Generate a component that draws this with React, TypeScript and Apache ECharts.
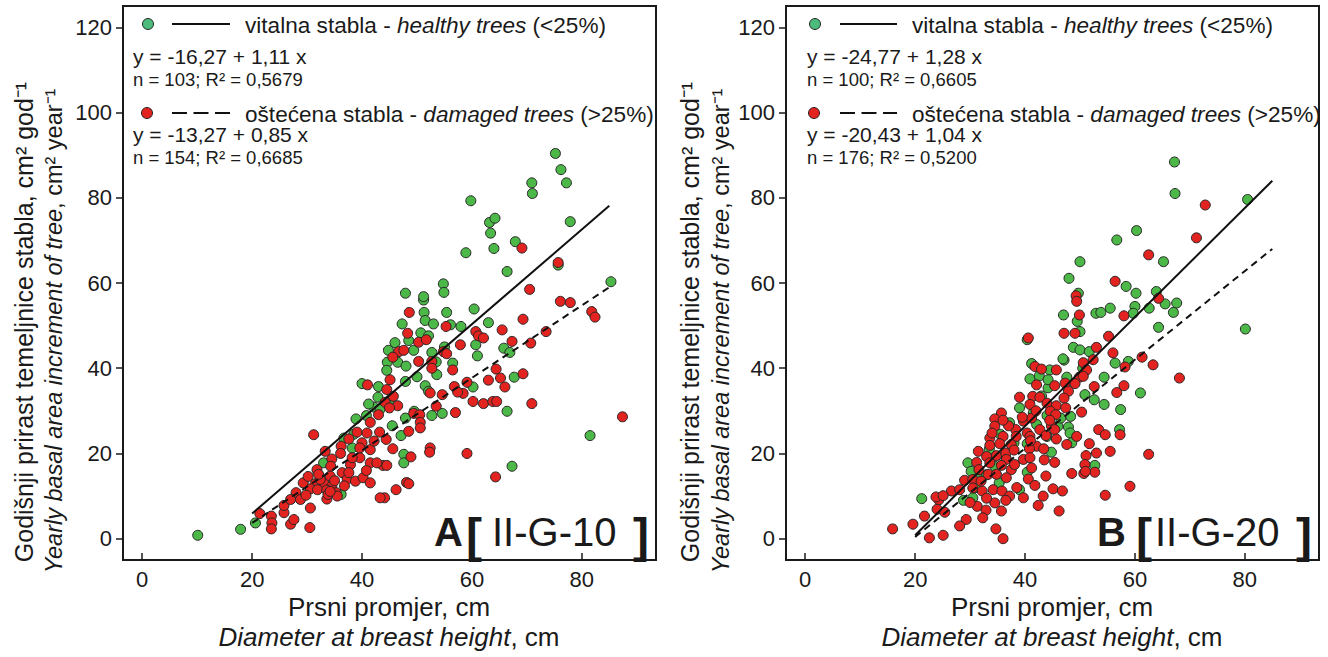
import React, { useEffect, useRef } from "react";
import * as echarts from "echarts";

// ---------- data ----------
const xTicks = [0, 20, 40, 60, 80];
const yTicks = [0, 20, 40, 60, 80, 100, 120];

// Panel A [II-G-10] – healthy trees (green)
const aHealthy: number[][] = [
  [10.1, 0.8], [17.9, 2.2], [20.6, 3.7],
  [51.2, 56.0], [51.3, 53.1], [55.4, 53.1], [47.3, 50.4], [51.5, 51.2], [53.0, 50.4], [58.0, 49.8],
  [50.7, 48.3], [52.1, 47.6], [48.5, 46.5], [44.8, 44.2], [49.4, 44.2], [52.7, 43.7], [44.6, 41.4],
  [46.5, 41.4], [56.5, 41.2], [44.5, 39.5], [53.6, 38.5], [40.0, 36.4], [43.0, 35.7], [47.9, 36.9],
  [51.5, 35.9], [52.1, 34.6], [42.9, 33.2], [42.1, 30.9], [47.9, 28.3], [52.7, 28.9], [54.6, 29.4],
  [38.9, 28.1], [40.8, 28.9], [45.5, 26.5], [47.1, 24.2], [36.7, 23.6], [38.2, 21.3], [47.6, 19.8],
  [47.6, 17.8], [33.0, 17.8], [36.2, 10.4],
  [75.2, 90.4], [76.2, 86.6], [77.2, 83.5], [70.9, 83.5], [71.0, 81.0], [59.8, 79.3], [77.9, 74.4],
  [63.2, 74.2], [64.2, 75.2], [63.4, 71.7], [64.0, 68.1], [58.9, 67.1], [67.9, 69.7], [66.4, 62.7],
  [75.7, 64.2], [85.3, 60.3], [54.8, 59.8], [54.9, 57.8], [47.9, 57.6], [51.2, 56.8], [60.4, 53.9],
  [63.0, 50.7], [60.7, 45.5], [61.0, 42.9], [65.8, 44.7], [66.9, 43.7], [67.7, 37.9], [60.2, 35.6],
  [66.4, 29.9], [67.3, 17.0], [81.5, 24.2], [56.1, 50.2],
  [49.5, 29.9], [43.3, 30.4], [45.1, 32.6], [41.2, 31.6], [50.0, 38.0], [46.0, 46.0], [55.0, 45.0],
  [53.5, 41.5], [48.0, 40.5], [38.5, 24.5],
];

// Panel A – damaged trees (red)
const aDamaged: number[][] = [
  [21.4, 5.9], [23.5, 5.3], [23.6, 3.7], [23.5, 2.3], [25.8, 6.1], [25.8, 7.8], [27.0, 3.4], [27.6, 4.5], [30.5, 2.6],
  [48.6, 53.1], [55.3, 49.8], [48.3, 48.2], [50.3, 46.1], [51.7, 46.7], [57.9, 45.5], [46.7, 43.9],
  [47.6, 44.2], [54.8, 43.9], [55.4, 43.4], [45.6, 42.6], [50.3, 41.6], [52.7, 41.6], [52.7, 40.0],
  [56.5, 39.6], [41.0, 36.1], [45.1, 37.3], [59.1, 36.7], [56.8, 35.7], [58.4, 34.1], [44.5, 35.0],
  [45.7, 33.4], [54.6, 33.8], [44.2, 32.0], [46.5, 31.2], [53.5, 31.1], [45.0, 30.7], [57.0, 29.6],
  [49.4, 29.4], [50.5, 29.1], [43.0, 29.1], [41.5, 27.3], [50.6, 27.3], [50.6, 26.0], [48.5, 25.2],
  [31.2, 24.4], [37.6, 23.4], [39.1, 25.0], [40.9, 24.8], [43.2, 25.0], [44.4, 23.3], [36.2, 21.7],
  [40.0, 22.5], [41.5, 20.9], [45.6, 21.1], [52.4, 21.3], [52.3, 20.3], [59.1, 20.0], [33.3, 20.5],
  [36.1, 20.0], [39.6, 19.0], [48.9, 19.2], [41.5, 17.8], [43.8, 17.2], [44.5, 17.2], [34.5, 18.7],
  [34.3, 17.0], [37.9, 17.4], [36.4, 15.5], [31.8, 16.2], [37.3, 14.0], [38.8, 13.5], [40.2, 14.3],
  [41.5, 13.1], [48.1, 13.2], [48.5, 12.9], [29.3, 13.1], [31.5, 12.9], [33.0, 13.2], [34.5, 12.3],
  [28.0, 10.8], [30.6, 11.7], [31.9, 11.5], [33.6, 11.4], [35.3, 10.8], [27.0, 9.2], [28.8, 9.2],
  [33.6, 9.3], [46.2, 11.5], [44.1, 9.6], [30.6, 7.2],
  [69.1, 68.2], [75.7, 64.8], [70.5, 58.5], [76.1, 55.7], [77.9, 55.4], [81.8, 53.3], [82.4, 52.0],
  [69.3, 51.5], [60.7, 48.6], [61.2, 47.6], [62.1, 47.1], [65.5, 49.0], [67.3, 46.3], [70.7, 45.9],
  [73.5, 48.6], [64.4, 39.8], [69.3, 38.7], [63.0, 37.2], [65.2, 37.7], [66.0, 35.6], [60.2, 32.2],
  [62.1, 31.7], [63.8, 32.2], [64.5, 32.2], [70.9, 31.7], [64.3, 14.5], [87.4, 28.6],
  [52.4, 34.2], [57.4, 34.4],
  [32.4, 13.9], [33.8, 10.4], [34.2, 14.7], [35.5, 10.0], [37.6, 15.5], [39.6, 21.3], [42.2, 22.9],
  [42.7, 17.8], [43.3, 9.6], [34.2, 11.1], [32.1, 15.1],
  [29.8, 10.2], [38.2, 19.0], [36.8, 12.4], [40.8, 16.0], [30.2, 14.6], [35.0, 13.6],
];

// Panel B [II-G-20] – healthy trees (green)
const bHealthy: number[][] = [
  [21.2, 9.4],
  [49.7, 57.6], [47.0, 52.5], [49.5, 51.0], [52.9, 52.9], [40.4, 46.7], [50.0, 48.6], [48.8, 44.9],
  [50.0, 44.3], [51.7, 43.9], [47.1, 41.9], [41.2, 41.1], [44.5, 39.6], [40.9, 37.5], [42.6, 38.2],
  [44.2, 35.4], [47.6, 37.9], [52.6, 32.6], [39.0, 30.7], [44.0, 28.9], [48.3, 28.7], [37.2, 27.2],
  [42.1, 26.8], [46.0, 26.4], [47.9, 26.2], [48.2, 24.8], [40.4, 22.3], [44.8, 20.3], [52.7, 17.2],
  [29.6, 17.8], [30.2, 15.8], [34.5, 17.0], [40.4, 15.6], [31.8, 14.3], [35.3, 13.1], [30.5, 9.6],
  [28.8, 9.0], [39.0, 11.5],
  [67.2, 88.4], [67.3, 81.0], [80.5, 79.6], [60.3, 72.3], [56.7, 70.1], [65.2, 65.0], [58.4, 59.2],
  [60.2, 57.6], [63.9, 58.0], [65.5, 55.1], [67.6, 55.3], [67.0, 53.1], [60.0, 54.5], [55.5, 54.1],
  [53.8, 53.1], [59.7, 52.9], [62.6, 54.1], [64.3, 49.6], [80.1, 49.2], [56.4, 41.2], [58.8, 41.6],
  [54.4, 37.9], [61.0, 34.2], [57.4, 30.3], [54.4, 31.5], [57.2, 25.6],
  [50.0, 65.0], [48.0, 61.1],
  [46.9, 42.2], [44.2, 37.3], [50.9, 33.8], [46.5, 28.3], [48.5, 22.5],
  [33.0, 15.0], [36.5, 19.0], [38.0, 22.5], [43.0, 33.5], [41.5, 29.5], [31.0, 12.0], [35.5, 24.5],
  [50.5, 40.0], [44.0, 24.0], [33.5, 21.0],
];

// Panel B – damaged trees (red)
const bDamaged: number[][] = [
  [15.9, 2.3], [19.6, 3.4], [21.7, 5.3], [22.6, 0.2], [24.3, 9.1], [24.0, 6.9], [23.8, 9.8],
  [49.3, 57.0], [49.4, 55.7], [49.9, 52.5], [40.6, 47.1], [47.1, 48.2], [49.1, 48.2], [53.0, 44.9],
  [41.8, 40.4], [43.0, 39.8], [45.7, 39.6], [50.6, 41.3], [51.2, 39.6], [49.9, 37.9], [42.1, 36.1],
  [45.4, 35.9], [47.3, 36.5], [49.1, 36.4], [52.6, 35.7], [39.0, 33.2], [41.4, 33.4], [42.7, 33.2],
  [47.9, 34.6], [47.1, 33.0], [40.9, 31.5], [44.0, 31.8], [45.7, 31.2], [47.4, 30.7], [44.6, 29.9],
  [50.3, 29.7], [35.7, 29.5], [34.5, 28.1], [45.6, 29.1], [39.7, 27.6], [41.2, 28.3], [34.5, 26.4],
  [42.7, 25.6], [44.8, 26.5], [45.4, 25.6], [49.4, 24.0], [51.7, 22.3], [38.3, 25.6], [36.0, 24.0],
  [33.6, 23.6], [38.4, 24.0], [40.4, 24.8], [40.9, 24.0], [43.8, 24.2], [45.7, 23.4], [47.6, 22.1],
  [33.6, 21.9], [35.4, 22.3], [37.5, 22.1], [42.1, 21.7], [43.4, 21.1], [40.8, 21.1], [51.1, 19.5],
  [53.0, 20.1], [33.0, 19.3], [34.8, 19.5], [36.5, 20.1], [36.6, 18.6], [39.7, 18.6], [40.9, 19.0],
  [45.4, 17.9], [50.9, 17.4], [52.7, 15.6], [31.2, 17.9], [31.6, 16.2], [33.6, 17.8], [35.7, 17.2],
  [37.5, 16.2], [38.1, 17.4], [41.2, 16.6], [43.8, 14.7], [48.5, 15.3], [50.7, 15.3], [29.0, 13.7],
  [30.5, 13.9], [33.3, 15.1], [34.8, 15.1], [36.6, 14.3], [40.6, 14.0], [41.8, 12.5], [43.3, 10.0],
  [45.1, 11.7], [46.8, 11.2], [26.6, 11.2], [25.1, 10.1], [28.1, 11.5], [30.5, 11.9], [32.2, 11.2],
  [34.2, 11.5], [35.8, 11.2], [37.2, 10.0], [39.7, 9.6], [42.4, 7.8], [31.3, 7.6], [32.9, 6.7],
  [34.5, 8.4], [35.7, 6.5], [29.3, 4.5], [28.1, 3.0], [46.2, 6.5], [34.7, 2.3], [36.0, 0.0],
  [25.1, 0.8], [32.3, 4.9], [25.4, 6.2],
  [72.8, 78.3], [71.2, 70.6], [62.5, 66.6], [56.4, 60.4], [64.3, 56.4], [58.0, 52.3], [55.2, 47.5],
  [56.0, 43.6], [61.3, 42.6], [63.3, 40.8], [58.2, 40.3], [58.0, 35.9], [56.7, 34.3], [68.1, 37.7],
  [57.3, 24.4], [62.5, 19.8], [59.1, 12.3], [54.6, 10.2], [55.5, 20.5],
  [52.4, 42.0], [53.4, 25.6], [54.6, 24.4], [51.0, 15.8], [50.6, 38.1],
  [30.0, 8.5], [33.0, 9.5], [36.5, 9.0], [38.5, 12.0], [31.5, 20.5], [34.0, 24.8], [37.0, 26.5],
  [39.5, 28.5], [42.0, 30.0], [44.5, 27.8], [36.0, 27.8], [32.0, 13.5], [38.0, 20.8], [41.0, 23.0],
  [43.5, 18.5],
];

// regression lines (end points)
const aHealthyFit = [[20, 5.9], [85, 78.1]];
const aDamagedFit = [[20, 3.7], [85, 59.0]];
const bHealthyFit = [[20, 0.8], [85, 84.0]];
const bDamagedFit = [[20, 0.4], [85, 68.0]];

const legendHealthy = "vitalna stabla - ";
const legendHealthyEn = "healthy trees";
const legendDamaged = "oštećena stabla - ";
const legendDamagedEn = "damaged trees";
const eqA = ["y = -16,27 + 1,11 x", "n = 103; R² = 0,5679", "y = -13,27 + 0,85 x", "n = 154; R² = 0,6685"];
const eqB = ["y = -24,77 + 1,28 x", "n = 100; R² = 0,6605", "y = -20,43 + 1,04 x", "n = 176; R² = 0,5200"];

// ---------- styling ----------
const FONT = "'Liberation Sans', Arial, Helvetica, sans-serif";
const INK = "#1a1a1a";
const GREEN = "#4cb848";
const RED = "#e2231f";
const GREEN_LEG = "#4cbb7c";

const GRIDS = [
  { left: 123, top: 6, width: 533, height: 554 },
  { left: 786, top: 6, width: 533, height: 554 },
];

function xAxis(gridIndex: number) {
  return {
    type: "value", gridIndex, min: -3.5, max: 93.5,
    axisLine: { show: true, onZero: false, lineStyle: { color: INK, width: 2 } },
    axisTick: { show: true, inside: true, length: 7, customValues: xTicks, lineStyle: { color: INK, width: 1.5 } },
    axisLabel: { customValues: xTicks, fontSize: 22, color: INK, fontFamily: FONT, margin: 8 },
    splitLine: { show: false },
  };
}
function yAxis(gridIndex: number) {
  return {
    type: "value", gridIndex, min: -5, max: 125,
    axisLine: { show: true, onZero: false, lineStyle: { color: INK, width: 2 } },
    axisTick: { show: true, inside: false, length: 7, customValues: yTicks, lineStyle: { color: INK, width: 1.5 } },
    axisLabel: { customValues: yTicks, fontSize: 22, color: INK, fontFamily: FONT, margin: 11 },
    splitLine: { show: false },
  };
}

function scatter(data: number[][], idx: number, color: string) {
  return {
    type: "scatter", xAxisIndex: idx, yAxisIndex: idx, data, symbol: "circle", symbolSize: 10,
    itemStyle: { color, borderColor: "#262626", borderWidth: 1, opacity: 1 },
    z: 3,
  };
}
function fit(data: number[][], idx: number, dashed: boolean) {
  return {
    type: "line", xAxisIndex: idx, yAxisIndex: idx, data, symbol: "none", silent: true,
    lineStyle: { color: "#111", width: 2, type: dashed ? [7, 5] : "solid" },
    z: 5,
  };
}

function txt(x: number, y: number, text: string, size: number, extra: any = {}) {
  return {
    type: "text", x, y, z: 10,
    style: {
      text, fontSize: size, fontFamily: FONT, fill: INK, align: "left", verticalAlign: "middle",
      ...extra,
    },
  };
}

function panelGraphics(p: {
  circleX: number; lineX1: number; lineX2: number; textX: number; eqX: number; eq: string[];
  labelParts: { x: number; t: string; size: number; bold: boolean; y: number }[];
  yTitleX1: number; yTitleX2: number; xTitleX: number;
}) {
  const LS = 22.6;
  const rich = { i: { fontStyle: "italic", fontSize: LS, fontFamily: FONT, fill: INK }, n: { fontSize: LS, fontFamily: FONT, fill: INK } };
  const els: any[] = [
    { type: "circle", z: 10, shape: { cx: p.circleX, cy: 24, r: 5.5 }, style: { fill: GREEN_LEG, stroke: "#222", lineWidth: 1 } },
    { type: "line", z: 10, shape: { x1: p.lineX1, y1: 24, x2: p.lineX2, y2: 24 }, style: { stroke: "#111", lineWidth: 2 } },
    txt(p.textX, 25, `{n|${legendHealthy}}{i|${legendHealthyEn}}{n| (<25%)}`, LS, { rich }),
    txt(p.eqX, 56, p.eq[0], 21),
    txt(p.eqX, 79, p.eq[1], 18.5),
    { type: "circle", z: 10, shape: { cx: p.circleX - 1, cy: 113, r: 5.5 }, style: { fill: RED, stroke: "#222", lineWidth: 1 } },
    { type: "line", z: 10, shape: { x1: p.lineX1, y1: 113, x2: p.lineX2, y2: 113 }, style: { stroke: "#111", lineWidth: 2, lineDash: [15, 6.5] } },
    txt(p.textX, 114, `{n|${legendDamaged}}{i|${legendDamagedEn}}{n| (>25%)}`, LS, { rich }),
    txt(p.eqX, 134, p.eq[2], 21),
    txt(p.eqX, 157, p.eq[3], 18.5),
  ];
  for (const lp of p.labelParts) {
    els.push(txt(lp.x, lp.y, lp.t, lp.size, { fontWeight: lp.bold ? "bold" : "normal" }));
  }
  const yrich = {
    n: { fontSize: 23.5, fontFamily: FONT, fill: INK },
    i: { fontSize: 23.5, fontFamily: FONT, fill: INK, fontStyle: "italic" },
  };
  els.push({
    type: "text", z: 10, x: p.yTitleX1, y: 322, rotation: Math.PI / 2,
    style: { text: "Godišnji prirast temeljnice stabla, cm² god⁻¹", fontSize: 25, fontFamily: FONT, fill: INK, align: "center", verticalAlign: "middle" },
  });
  els.push({
    type: "text", z: 10, x: p.yTitleX2, y: 331, rotation: Math.PI / 2,
    style: { text: "{i|Yearly basal area increment of tree}{n|, cm² year⁻¹}", rich: yrich, align: "center", verticalAlign: "middle" },
  });
  const xrich = {
    n: { fontSize: 26, fontFamily: FONT, fill: INK },
    i: { fontSize: 26, fontFamily: FONT, fill: INK, fontStyle: "italic" },
  };
  els.push({
    type: "text", z: 10, x: p.xTitleX, y: 607,
    style: { text: "Prsni promjer, cm", fontSize: 26, fontFamily: FONT, fill: INK, align: "center", verticalAlign: "middle" },
  });
  els.push({
    type: "text", z: 10, x: p.xTitleX, y: 637,
    style: { text: "{i|Diameter at breast height}{n|, cm}", rich: xrich, align: "center", verticalAlign: "middle" },
  });
  return els;
}

export default function App() {
  const ref = useRef<HTMLDivElement>(null);
  useEffect(() => {
    if (!ref.current) return;
    const chart = echarts.init(ref.current, null, { renderer: "svg" });
    const graphic = [
      ...panelGraphics({
        circleX: 148, lineX1: 172, lineX2: 230, textX: 245, eqX: 133, eq: eqA,
        labelParts: [
          { x: 434, t: "A", size: 40, bold: true, y: 532 },
          { x: 466, t: "[", size: 48, bold: true, y: 535 },
          { x: 492, t: "II-G-10", size: 40, bold: false, y: 532 },
          { x: 633, t: "]", size: 48, bold: true, y: 535 },
        ],
        yTitleX1: 24, yTitleX2: 54, xTitleX: 389,
      }),
      ...panelGraphics({
        circleX: 815, lineX1: 840, lineX2: 897, textX: 912, eqX: 807, eq: eqB,
        labelParts: [
          { x: 1097, t: "B", size: 40, bold: true, y: 532 },
          { x: 1136, t: "[", size: 48, bold: true, y: 535 },
          { x: 1155, t: "II-G-20", size: 40, bold: false, y: 532 },
          { x: 1296, t: "]", size: 48, bold: true, y: 535 },
        ],
        yTitleX1: 690, yTitleX2: 721, xTitleX: 1052,
      }),
    ];
    chart.setOption({
      animation: false,
      backgroundColor: "#ffffff",
      grid: GRIDS.map((g) => ({ ...g, show: true, borderColor: INK, borderWidth: 2, backgroundColor: "transparent" })),
      xAxis: [xAxis(0), xAxis(1)],
      yAxis: [yAxis(0), yAxis(1)],
      series: [
        scatter(aHealthy, 0, GREEN),
        scatter(aDamaged, 0, RED),
        fit(aHealthyFit, 0, false),
        fit(aDamagedFit, 0, true),
        scatter(bHealthy, 1, GREEN),
        scatter(bDamaged, 1, RED),
        fit(bHealthyFit, 1, false),
        fit(bDamagedFit, 1, true),
      ],
      graphic,
    });
    return () => chart.dispose();
  }, []);
  return (
    <div
      ref={ref}
      style={{ position: "absolute", left: 0, top: 0, width: 1328, height: 657, background: "#fff" }}
    />
  );
}
